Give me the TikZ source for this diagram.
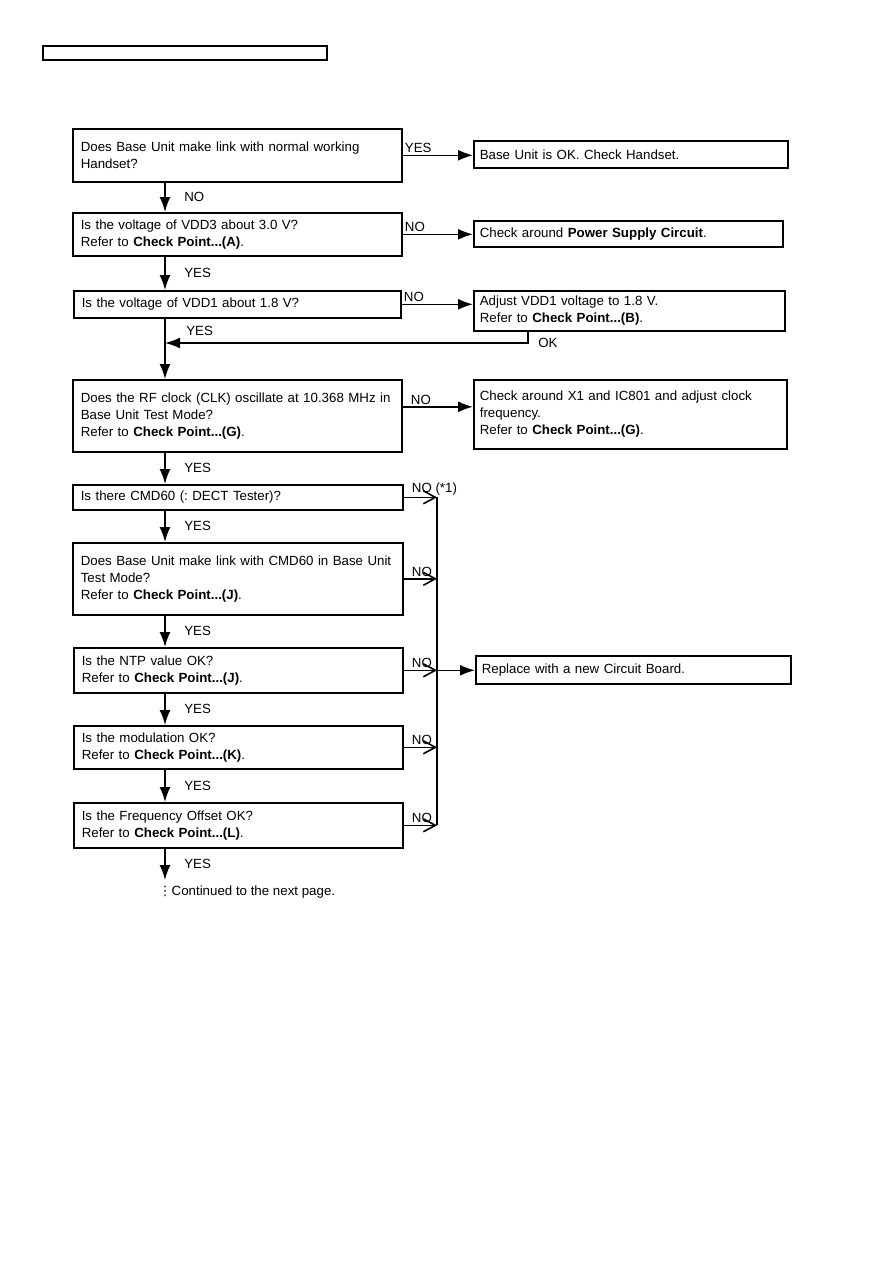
\documentclass[tikz,border=0pt]{standalone}
\usepackage{fontspec}
\setmainfont{Liberation Sans}
\newfontfamily\dotsfont{DejaVu Sans}
\usetikzlibrary{arrows.meta, positioning, calc}
\frenchspacing
\tikzset{
    askbox/.style={
        rectangle,
        draw=black,
        line width=1.6pt,
        anchor=north west,
        align=left,
        inner xsep=8pt,
        inner ysep=0pt,
        text width=313pt,
        font=\fontsize{13.3}{17}\selectfont
    },
    actbox/.style={
        askbox,
        inner xsep=6pt
    },
    flowarrow/.style={-{Latex[length=15pt,width=11pt]}, line width=1.6pt},
    busarrow/.style={-{Straight Barb[length=12pt,width=13pt]}, line width=1.6pt},
    busline/.style={line width=1.6pt},
    lbl/.style={font=\fontsize{13.3}{16}\selectfont, inner sep=1.5pt}
}
\begin{document}
\begin{tikzpicture}[x=1pt,y=-1pt]
    \useasboundingbox (0,0) rectangle (893,1263);
    \node[draw, line width=1.6pt, anchor=north west, inner sep=0pt, minimum width=284pt, minimum height=14pt] (header) at (42,45) {};

    \node[askbox, minimum height=53pt] (q1) at (72,128) {Does Base Unit make link with normal working\\Handset?};
    \node[askbox, minimum height=43pt] (q2) at (72,212) {Is the voltage of VDD3 about 3.0 V?\\Refer to \textbf{Check Point...(A)}.};
    \node[askbox, minimum height=27pt, text width=311pt] (q3) at (73,290) {Is the voltage of VDD1 about 1.8 V?};
    \node[askbox, minimum height=72pt] (q4) at (72,379) {Does the RF clock (CLK) oscillate at 10.368 MHz in\\Base Unit Test Mode?\\Refer to \textbf{Check Point...(G)}.};
    \node[askbox, minimum height=25pt, text width=314pt] (q5) at (72,484) {Is there CMD60 (: DECT Tester)?};
    \node[askbox, minimum height=72pt, text width=314pt] (q6) at (72,542) {Does Base Unit make link with CMD60 in Base Unit\\Test Mode?\\Refer to \textbf{Check Point...(J)}.};
    \node[askbox, minimum height=45pt] (q7) at (73,647) {Is the NTP value OK?\\Refer to \textbf{Check Point...(J)}.};
    \node[askbox, minimum height=43pt] (q8) at (73,725) {Is the modulation OK?\\Refer to \textbf{Check Point...(K)}.};
    \node[askbox, minimum height=45pt] (q9) at (73,802) {Is the Frequency Offset OK?\\Refer to \textbf{Check Point...(L)}.};

    \node[actbox, minimum height=27pt, text width=302pt] (r1) at (473,140) {Base Unit is OK. Check Handset.};
    \node[actbox, minimum height=26pt, text width=297pt] (r2) at (473,220) {Check around \textbf{Power Supply Circuit}.};
    \node[actbox, minimum height=40pt, text width=299pt] (r3) at (473,290) {Adjust VDD1 voltage to 1.8 V.\\Refer to \textbf{Check Point...(B)}.};
    \node[actbox, minimum height=69pt, text width=301pt] (r4) at (473,379) {Check around X1 and IC801 and adjust clock\\frequency.\\Refer to \textbf{Check Point...(G)}.};
    \node[actbox, minimum height=28pt, text width=303pt] (r5) at (475,655) {Replace with a new Circuit Board.};

    \coordinate (spine) at (165,0);
    \coordinate (bus) at (437,0);
    \coordinate (okin) at (165,343);
    \coordinate (okdrop) at (528,343);
    \coordinate (n4) at ([yshift=9pt]q4.east);
    \coordinate (cont) at (165,880);

    \draw[flowarrow] (q1.south -| spine) -- node[lbl, right=17pt]{NO} (q2.north -| spine);
    \draw[flowarrow] (q2.south -| spine) -- node[lbl, right=17pt]{YES} (q3.north -| spine);
    \draw[flowarrow] (q3.south -| spine) -- node[lbl, right=19pt]{YES} (okin) -- (q4.north -| spine);
    \foreach \a/\b in {q4/q5, q5/q6, q6/q7, q7/q8, q8/q9} {
        \draw[flowarrow] (\a.south -| spine) -- node[lbl, right=17pt]{YES} (\b.north -| spine);
    }
    \draw[flowarrow] (q9.south -| spine) -- node[lbl, right=17pt]{YES} (cont);

    \foreach \a/\b/\t in {q1/r1/YES, q2/r2/NO, q3/r3/NO} {
        \draw[flowarrow] (\a.east) -- node[lbl, pos=0, above right]{\t} (\a.east -| \b.west);
    }
    \draw[flowarrow] (n4) -- node[lbl, pos=0, above right, xshift=6pt]{NO} (n4 -| r4.west);
    \draw[flowarrow] (okdrop |- r3.south) -- (okdrop) node[lbl, right=8pt]{OK} -- (okin);

    \draw[busline] (q5.east -| bus) -- (q9.east -| bus);
    \draw[busarrow] (q5.east) -- node[lbl, pos=0, above right, xshift=6pt]{NO (*1)} (q5.east -| bus);
    \foreach \q in {q6, q7, q8, q9} {
        \draw[busarrow] (\q.east) -- node[lbl, pos=0, above right, xshift=6pt]{NO} (\q.east -| bus);
    }
    \draw[flowarrow] (q7.east -| bus) -- (q7.east -| r5.west);

    \node[lbl, anchor=west] (next) at (157,892) {{\dotsfont\fontsize{13}{15}\selectfont ⋮}Continued to the next page.};
\end{tikzpicture}
\end{document}
